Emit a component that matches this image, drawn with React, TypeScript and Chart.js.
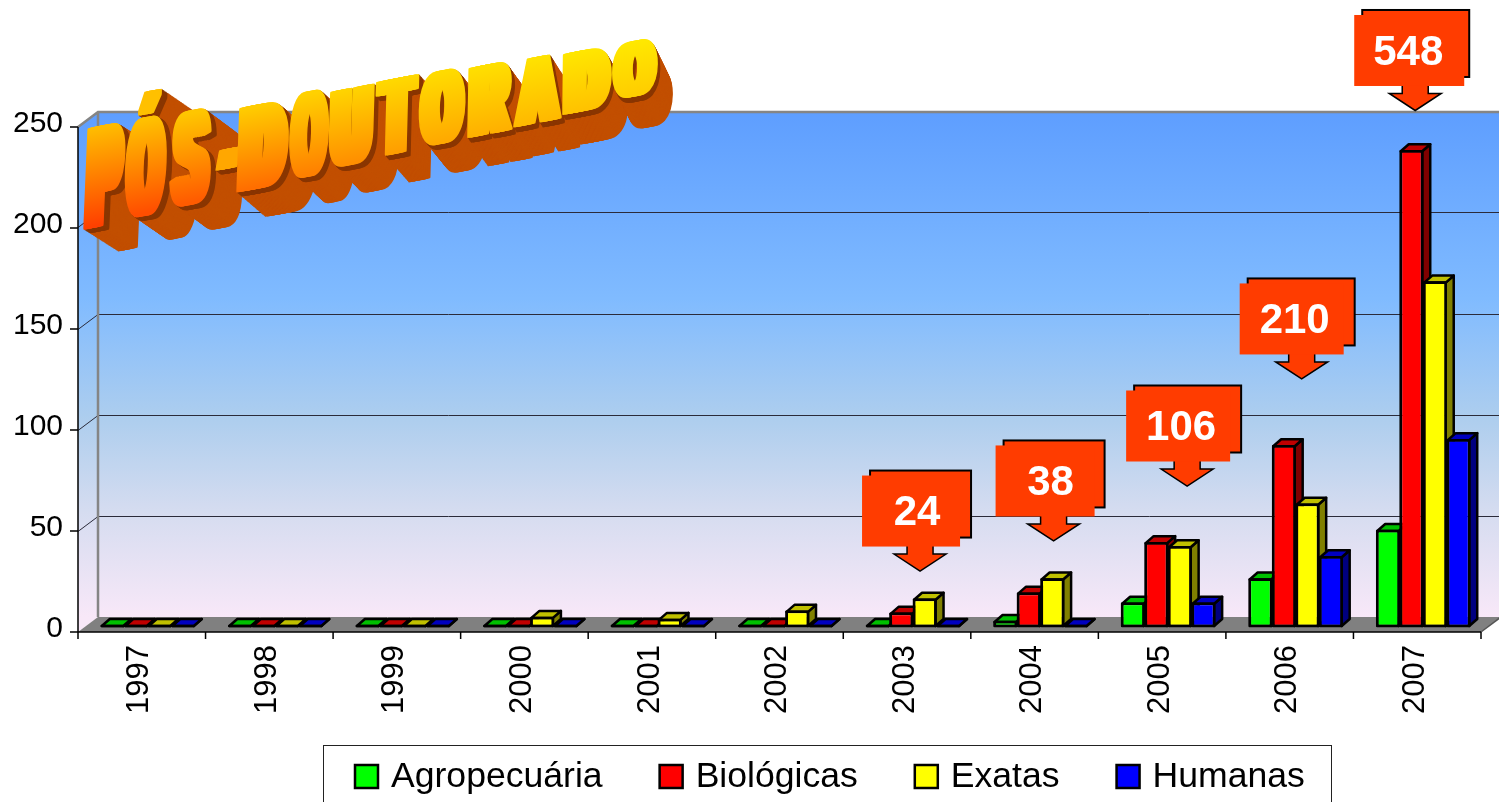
import React, { useEffect, useRef } from "react";
import { Chart, registerables } from "chart.js";

Chart.register(...registerables);

const years = ["1997", "1998", "1999", "2000", "2001", "2002", "2003", "2004", "2005", "2006", "2007"];
const agropecuaria = [0, 0, 0, 0, 0, 0, 0, 3, 12, 24, 48];
const biologicas = [0, 0, 0, 0, 1, 0, 7, 17, 42, 90, 236];
const exatas = [1, 1, 1, 5, 4, 8, 14, 24, 40, 61, 171];
const humanas = [0, 1, 0, 0, 0, 0, 1, 1, 12, 35, 93];
const seriesNames = ["Agropecuária", "Biológicas", "Exatas", "Humanas"];
const yTicks = [0, 50, 100, 150, 200, 250];

const calloutTexts = ["24", "38", "106", "210", "548"];
const calloutYearIndex = [6, 7, 8, 9, 10];
const calloutTipValue = [27.7, 42.6, 69.8, 122.8, 255.7];
const calloutTipShift = [7, 13, 19, 6, -8];
const calloutLeftSpan = [58, 58, 61, 62, 61];
const calloutRightSpan = [40, 41, 43, 42, 49];
const calloutBackGap = [11, 10, 11, 11, 5];
const calloutTextShift = [-3, -3, -6, -7, -7];

const TITLE = "PÓS-DOUTORADO";
// left, right, top, bottom of each WordArt letter
const titleBoxes = [
  [83, 123, 122, 227], [123, 165, 115, 216], [168, 210, 108, 205], [210, 233, 147, 168],
  [236, 288, 99, 190], [288, 328, 89, 177], [328, 373, 84, 166], [374, 418, 74, 155],
  [418, 465, 67, 145], [467, 513, 60, 136], [513, 562, 52, 125], [562, 612, 45, 113], [612, 658, 37, 98],
];

const FRONT = { x: -6, y: 5 };
const BACK = { x: 14, y: -10 };
const BAR_DEPTH = { x: 8, y: -7 };
const FONT = '"Liberation Sans", Arial, sans-serif';

const fronts = ["#00FF00", "#FF0000", "#FFFF00", "#0000FF"];
const tops = ["#00C000", "#C00000", "#C0C000", "#0000C0"];
const sides = ["#008000", "#800000", "#808000", "#000080"];

function poly(ctx: CanvasRenderingContext2D, pts: number[][]) {
  ctx.beginPath();
  pts.forEach((p, i) => (i ? ctx.lineTo(p[0], p[1]) : ctx.moveTo(p[0], p[1])));
  ctx.closePath();
}

function drawBarFaces(ctx: CanvasRenderingContext2D, meta: any, k: number) {
  ctx.save();
  ctx.strokeStyle = "#000";
  ctx.lineWidth = 2.5;
  ctx.lineJoin = "round";
  meta.data.forEach((bar: any) => {
    const { x, y, base, width } = bar.getProps(["x", "y", "base", "width"], true);
    const l = x - width / 2 + 1, r = x + width / 2 - 1;
    const t = y + 1 > base - 1 ? base - 1 : y + 1;
    const b = base - 1;
    const d = BAR_DEPTH;
    ctx.fillStyle = sides[k];
    poly(ctx, [[r, t], [r + d.x, t + d.y], [r + d.x, b + d.y], [r, b]]);
    ctx.fill();
    ctx.stroke();
    ctx.fillStyle = tops[k];
    poly(ctx, [[l, t], [l + d.x, t + d.y], [r + d.x, t + d.y], [r, t]]);
    ctx.fill();
    ctx.stroke();
    ctx.strokeRect(l, t, r - l, Math.max(b - t, 0));
  });
  ctx.restore();
}

const stage3d = {
  id: "stage3d",
  beforeDatasetsDraw(chart: any) {
    const { ctx, chartArea: a, scales } = chart;
    const y = scales.y;
    const L = a.left + FRONT.x, R = a.right + FRONT.x;
    const F = a.bottom + FRONT.y;
    const topF = y.getPixelForValue(250) + FRONT.y;
    const dx = BACK.x - FRONT.x, dy = BACK.y - FRONT.y;
    ctx.save();
    const g = ctx.createLinearGradient(0, topF + dy, 0, F + dy);
    g.addColorStop(0, "#5E9EFF");
    g.addColorStop(0.37, "#80BBFF");
    g.addColorStop(0.61, "#AECEEE");
    g.addColorStop(0.79, "#D5DCF0");
    g.addColorStop(1, "#F8E8F8");
    ctx.fillStyle = g;
    poly(ctx, [[L, topF], [L + dx, topF + dy], [R + dx, topF + dy], [R + dx, F + dy], [L + dx, F + dy], [L, F]]);
    ctx.fill();
    ctx.fillStyle = "#808080";
    poly(ctx, [[L, F], [L + dx, F + dy], [R + dx, F + dy], [R, F]]);
    ctx.fill();
    ctx.strokeStyle = "#2b2b3a";
    ctx.lineWidth = 1;
    yTicks.forEach((t) => {
      if (t === 0 || t === 250) return;
      const py = Math.floor(y.getPixelForValue(t) + FRONT.y) + 0.5;
      ctx.beginPath();
      ctx.moveTo(L, py);
      ctx.lineTo(L + dx, py + dy);
      ctx.lineTo(R + dx, py + dy);
      ctx.stroke();
    });
    ctx.strokeStyle = "#858585";
    ctx.lineWidth = 2.5;
    ctx.beginPath();
    ctx.moveTo(L, topF);
    ctx.lineTo(L + dx, topF + dy);
    ctx.lineTo(R + dx, topF + dy);
    ctx.moveTo(L + dx, topF + dy);
    ctx.lineTo(L + dx, F + dy);
    ctx.stroke();
    ctx.lineWidth = 1.5;
    ctx.strokeStyle = "#555";
    ctx.beginPath();
    ctx.moveTo(R, F);
    ctx.lineTo(R + dx, F + dy);
    ctx.stroke();
    ctx.strokeStyle = "#000";
    ctx.lineWidth = 1.5;
    ctx.beginPath();
    ctx.moveTo(L, topF);
    ctx.lineTo(L, F);
    ctx.lineTo(R, F);
    yTicks.forEach((t) => {
      const py = y.getPixelForValue(t) + FRONT.y;
      ctx.moveTo(L - 8, py);
      ctx.lineTo(L, py);
    });
    const step = (R - L) / years.length;
    for (let i = 0; i <= years.length; i++) {
      ctx.moveTo(L + step * i, F);
      ctx.lineTo(L + step * i, F + 7);
    }
    ctx.stroke();
    ctx.restore();

    // left-to-right painting: each bar's front covers its left neighbour's side
    chart.data.datasets.forEach((_: any, i: number) => {
      const meta = chart.getDatasetMeta(i);
      drawBarFaces(ctx, meta, i);
      meta.controller.draw();
    });
  },
  beforeDatasetDraw() {
    return false;
  },
  afterDatasetsDraw(chart: any) {
    const { ctx, scales } = chart;
    ctx.save();
    calloutTexts.forEach((txt, i) => {
      const tx = scales.x.getPixelForValue(calloutYearIndex[i]) + calloutTipShift[i];
      const ty = scales.y.getPixelForValue(calloutTipValue[i]);
      const left = tx - calloutLeftSpan[i], right = tx + calloutRightSpan[i];
      const bottom = ty - 24.5, top = bottom - 71;
      ctx.fillStyle = "#FF3C00";
      ctx.strokeStyle = "#000";
      ctx.lineWidth = 2;
      const bw = right + calloutBackGap[i] - (left + 8);
      ctx.fillRect(left + 8, top - 5, bw, 67);
      ctx.strokeRect(left + 8, top - 5, bw, 67);
      poly(ctx, [[tx - 13, bottom - 2], [tx - 13, ty - 17], [tx - 26, ty - 17], [tx, ty], [tx + 26, ty - 17], [tx + 13, ty - 17], [tx + 13, bottom - 2]]);
      ctx.fill();
      ctx.lineWidth = 1.5;
      ctx.stroke();
      ctx.fillRect(left, top, right - left, 71);
      ctx.fillStyle = "#fff";
      ctx.font = `bold 42px ${FONT}`;
      ctx.textAlign = "center";
      ctx.textBaseline = "middle";
      ctx.fillText(txt, tx + calloutTextShift[i], top + 38);
    });
    ctx.restore();

    // legend
    ctx.save();
    ctx.fillStyle = "#fff";
    ctx.fillRect(323, 745.5, 1008, 60);
    ctx.strokeStyle = "#222";
    ctx.lineWidth = 1;
    ctx.strokeRect(323.5, 745.5, 1008, 60);
    ctx.font = `35.6px ${FONT}`;
    ctx.textBaseline = "middle";
    ctx.textAlign = "left";
    let lx = 355;
    chart.data.datasets.forEach((ds: any, i: number) => {
      ctx.fillStyle = fronts[i];
      ctx.fillRect(lx, 765, 23, 23);
      ctx.strokeStyle = "#000";
      ctx.lineWidth = 2.5;
      ctx.strokeRect(lx, 765, 23, 23);
      ctx.fillStyle = "#000";
      ctx.fillText(ds.label, lx + 36, 777);
      lx += 36 + ctx.measureText(ds.label).width + 57;
    });
    ctx.restore();

    // WordArt title
    const colorAt = (yy: number) => {
      const stops: [number, number[]][] = [
        [40, [255, 232, 0]], [100, [255, 204, 0]], [150, [255, 165, 0]], [190, [255, 110, 0]], [227, [255, 64, 0]],
      ];
      if (yy <= stops[0][0]) return `rgb(${stops[0][1].join(",")})`;
      for (let i = 1; i < stops.length; i++) {
        if (yy <= stops[i][0]) {
          const f = (yy - stops[i - 1][0]) / (stops[i][0] - stops[i - 1][0]);
          const c = stops[i - 1][1].map((v, j) => Math.round(v + (stops[i][1][j] - v) * f));
          return `rgb(${c.join(",")})`;
        }
      }
      return "rgb(255,64,0)";
    };
    const slope = -0.19;
    const chars = Array.from(TITLE);
    const smear = 14, pen = 3;
    ctx.save();
    ctx.font = `bold 100px ${FONT}`;
    ctx.textBaseline = "alphabetic";
    ctx.textAlign = "left";
    ctx.lineJoin = "round";
    const capH = 68.8;
    const glyph = (ch: string) => {
      for (let dx = -smear; dx <= smear; dx += 3.5) {
        ctx.fillText(ch, dx, 0);
        ctx.strokeText(ch, dx, 0);
      }
    };
    chars.forEach((ch, i) => {
      const [l, r, t, b] = titleBoxes[i];
      const m = ctx.measureText(ch === "Ó" ? "O" : ch);
      const tw = m.actualBoundingBoxRight + m.actualBoundingBoxLeft;
      const w = r - l;
      const h = b - t + slope * w;
      const isDash = ch === "-";
      const chH = isDash ? m.actualBoundingBoxAscent + m.actualBoundingBoxDescent : capH;
      const sx = w / (tw + 2 * smear + pen), sy = h / chH;
      const lean = -4 * (1 - i / chars.length);
      const frac = (l + r) / 2 / 660;
      const ex = 38 - 24 * frac, ey = 20 + 11 * frac;
      const yOfs = isDash ? -m.actualBoundingBoxDescent * sy : 0;
      const place = (ox: number, oy: number) => {
        ctx.setTransform(sx, slope * sx, lean / chH, sy, l + ox + (m.actualBoundingBoxLeft + smear + pen / 2) * sx, b + oy + yOfs);
      };
      const steps = 36;
      ctx.lineWidth = pen;
      for (let s = steps; s >= 1; s--) {
        const f = s / steps;
        place(ex * f, ey * f);
        const c = f > 0.18 ? "#C24F00" : "#8A3600";
        ctx.fillStyle = c;
        ctx.strokeStyle = c;
        glyph(ch);
      }
      place(0, 0);
      const baseY = isDash ? m.actualBoundingBoxDescent * -1 : 0;
      const grad = ctx.createLinearGradient(0, baseY, 0, baseY - chH);
      grad.addColorStop(0, colorAt(b));
      grad.addColorStop(1, colorAt(t));
      ctx.fillStyle = grad;
      ctx.strokeStyle = grad;
      glyph(ch);
    });
    ctx.restore();
  },
};

export default function App() {
  const ref = useRef<HTMLCanvasElement>(null);
  useEffect(() => {
    document.body.style.margin = "0";
    const series = [agropecuaria, biologicas, exatas, humanas];
    const chart = new Chart(ref.current as HTMLCanvasElement, {
      type: "bar",
      data: {
        labels: years,
        datasets: series.map((data, i) => ({
          label: seriesNames[i],
          data,
          clip: false,
          backgroundColor: fronts[i],
          borderColor: "#000",
          borderWidth: 2.5,
          borderSkipped: false,
          categoryPercentage: 0.737,
          barPercentage: 1,
        })),
      },
      options: {
        animation: false,
        responsive: false,
        events: [],
        layout: { padding: { top: 122, right: 12, left: 0, bottom: 0 } },
        plugins: { legend: { display: false }, tooltip: { enabled: false }, title: { display: false } },
        scales: {
          x: {
            grid: { display: false, drawTicks: false },
            border: { display: false },
            afterFit: (s: any) => { s.height = 175; },
            ticks: {
              color: "#000",
              font: { family: FONT, size: 31 },
              minRotation: 90,
              maxRotation: 90,
              padding: 18,
              labelOffset: -8,
              autoSkip: false,
            },
          },
          y: {
            min: 0,
            max: 250,
            grid: { display: false, drawTicks: false },
            border: { display: false },
            afterFit: (s: any) => { s.width = 84; },
            afterBuildTicks: (s: any) => { s.ticks = yTicks.map((value) => ({ value })); },
            ticks: { color: "#000", font: { family: FONT, size: 30 }, padding: 21, labelOffset: 1.5 },
          },
        },
      },
      plugins: [stage3d],
    } as any);
    return () => chart.destroy();
  }, []);
  return (
    <div style={{ position: "fixed", left: 0, top: 0, width: 1499, height: 802, background: "#fff", overflow: "hidden" }}>
      <canvas ref={ref} width={1499} height={802} style={{ display: "block" }} />
    </div>
  );
}
